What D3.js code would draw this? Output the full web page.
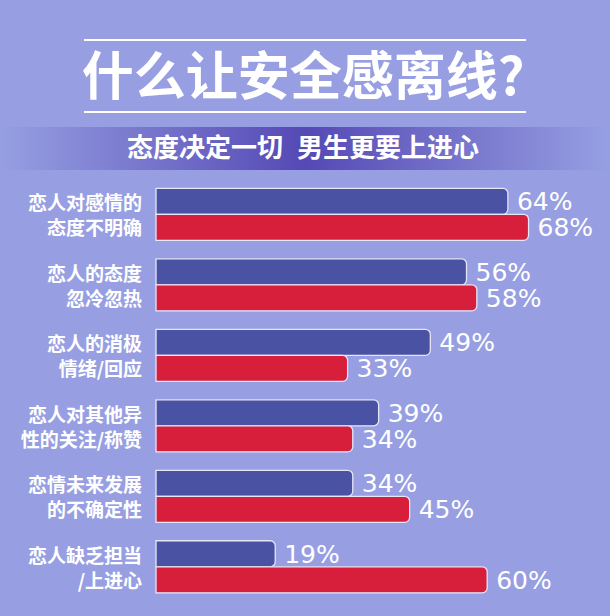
<!DOCTYPE html>
<html>
<head>
<meta charset="utf-8">
<script src="https://cdn.jsdelivr.net/npm/d3@7"></script>
<style>
	html, body { margin: 0; padding: 0; background: #979fe2; }
	svg { display: block; }
</style>
</head>
<body>
<svg id="chart"></svg>
<script>
// data
const categories = [
	['恋人对感情的', '态度不明确'],
	['恋人的态度', '忽冷忽热'],
	['恋人的消极', '情绪/回应'],
	['恋人对其他异', '性的关注/称赞'],
	['恋情未来发展', '的不确定性'],
	['恋人缺乏担当', '/上进心']
]
const series = ['男生', '女生']
const male = [64, 56, 49, 39, 34, 19]
const female = [68, 58, 33, 34, 45, 60]

const title_text = '什么让安全感离线?'
const subtitle_left = '态度决定一切'
const subtitle_right = '男生更要上进心'

let outer_width = 610
let outer_height = 616

let colors = {
	bg: '#979fe2',
	band: '#5549b5',
	male: '#4a52a4',
	female: '#d71f3b',
	stroke: '#e6e6f7'
}

const cjk = '"Noto Sans CJK SC", "Noto Sans", sans-serif'
const numFont = '"DejaVu Sans", sans-serif'

const svg = d3.select('#chart')
	.attr('width', outer_width)
	.attr('height', outer_height)
	.attr('viewBox', [0, 0, outer_width, outer_height])

svg.append('rect')
	.attr('width', outer_width)
	.attr('height', outer_height)
	.attr('fill', colors.bg)

// subtitle band gradient
const defs = svg.append('defs')
const grad = defs.append('linearGradient')
	.attr('id', 'bandGrad')
	.attr('x1', '0%').attr('x2', '100%')
grad.selectAll('stop')
	.data([
		{o: 0, c: colors.bg},
		{o: 0.5, c: colors.band},
		{o: 1, c: colors.bg}
	])
	.enter()
	.append('stop')
	.attr('offset', d => d.o)
	.attr('stop-color', d => d.c)

svg.append('rect')
	.attr('x', 0)
	.attr('y', 127)
	.attr('width', outer_width)
	.attr('height', 43)
	.attr('fill', 'url(#bandGrad)')

// title + rules
svg.selectAll('.rule')
	.data([40, 112])
	.enter()
	.append('line')
	.classed('rule', true)
	.attr('x1', 84).attr('x2', 526)
	.attr('y1', d => d).attr('y2', d => d)
	.attr('stroke', '#fff')
	.attr('stroke-width', 2)

svg.append('text')
	.text(title_text)
	.attr('x', 303)
	.attr('y', 95)
	.attr('text-anchor', 'middle')
	.attr('font-family', cjk)
	.attr('font-weight', 700)
	.attr('font-size', '52px')
	.attr('fill', '#fff')

svg.append('text')
	.text(subtitle_left)
	.attr('x', 127)
	.attr('y', 157)
	.attr('font-family', cjk)
	.attr('font-weight', 700)
	.attr('font-size', '26px')
	.attr('fill', '#fff')

svg.append('text')
	.text(subtitle_right)
	.attr('x', 297)
	.attr('y', 157)
	.attr('font-family', cjk)
	.attr('font-weight', 700)
	.attr('font-size', '26px')
	.attr('fill', '#fff')

// scales
const bar_left = 156

const yScale = d3.scaleBand()
	.domain(d3.range(categories.length))
	.range([188.3, 592.8])
	.paddingInner(0.262)

const ySub = d3.scaleBand()
	.domain(series)
	.range([0, yScale.bandwidth()])

// the artwork bars aren't quite proportional, a small offset fits them best
const xScale = d3.scaleLinear()
	.domain([0, 100])
	.range([bar_left + 21, bar_left + 21 + 517])

// left square, right rounded
const barPath = (x0, x1, y, h, r) => {
	let p = d3.path()
	p.moveTo(x0, y)
	p.lineTo(x1 - r, y)
	p.arcTo(x1, y, x1, y + r, r)
	p.lineTo(x1, y + h - r)
	p.arcTo(x1, y + h, x1 - r, y + h, r)
	p.lineTo(x0, y + h)
	p.closePath()
	return p.toString()
}

let rows = []
categories.forEach((c, i) => {
	rows.push({i: i, s: series[0], v: male[i], color: colors.male})
	rows.push({i: i, s: series[1], v: female[i], color: colors.female})
})

const chart = svg.append('g')

chart.selectAll('.bar')
	.data(rows)
	.enter()
	.append('path')
	.classed('bar', true)
	.attr('d', d => barPath(bar_left, xScale(d.v), yScale(d.i) + ySub(d.s), ySub.bandwidth(), 5))
	.attr('fill', d => d.color)
	.attr('stroke', colors.stroke)
	.attr('stroke-width', 1.3)

chart.selectAll('.label')
	.data(rows)
	.enter()
	.append('text')
	.classed('label', true)
	.text(d => `${d.v}%`)
	.attr('x', d => xScale(d.v) + 9)
	.attr('y', d => yScale(d.i) + ySub(d.s) + ySub.bandwidth() / 2 + 9)
	.attr('font-family', numFont)
	.attr('font-size', '25px')
	.attr('fill', '#fff')

const cats = chart.selectAll('.cat')
	.data(categories)
	.enter()
	.append('text')
	.classed('cat', true)
	.attr('text-anchor', 'end')
	.attr('font-family', cjk)
	.attr('font-weight', 700)
	.attr('font-size', '19px')
	.attr('fill', '#fff')

cats.selectAll('tspan')
	.data((d, i) => d.map((t, j) => ({t: t, i: i, j: j})))
	.enter()
	.append('tspan')
	.text(d => d.t)
	.attr('x', 142)
	.attr('y', d => yScale(d.i) + 22 + d.j * 25)
</script>
</body>
</html>
